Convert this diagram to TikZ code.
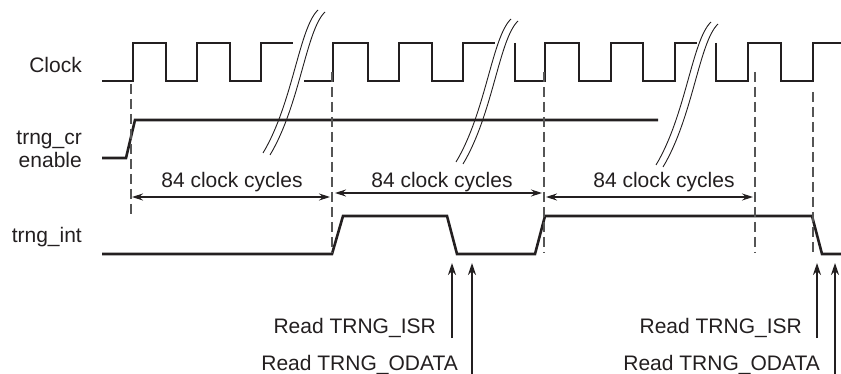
\documentclass[tikz,border=0pt]{standalone}
\usepackage{fontspec}
\setmainfont{Liberation Sans}
\usetikzlibrary{arrows.meta}
\definecolor{ink}{HTML}{231F20}
\definecolor{guidegray}{HTML}{555555}

% double wavy break line, bottom end at (#1,#2)
\newcommand{\wavebreak}[2]{%
  \begin{scope}[shift={(#1,#2)}]
    \fill[white] (0,0) .. controls (30,-50) and (36,-125) .. (55,-143) -- (62,-141) .. controls (43,-123) and (37,-48) .. (7,2) -- cycle;
    \draw[line width=0.9pt,ink] (0,0) .. controls (30,-50) and (36,-125) .. (55,-143);
    \draw[line width=0.9pt,ink] (7,2) .. controls (37,-48) and (43,-123) .. (62,-141);
  \end{scope}}

\begin{document}
\begin{tikzpicture}[x=1pt,y=-1pt,
  wave/.style={line width=2.6pt,ink,line join=miter},
  guide/.style={line width=1.3pt,guidegray,dash pattern=on 10pt off 5pt},
  dimarrow/.style={line width=1.1pt,ink,{Stealth[length=11pt,width=7pt]}-{Stealth[length=11pt,width=7pt]}},
  readarrow/.style={line width=2pt,ink,-{Stealth[length=12pt,width=8pt]}},
  lbl/.style={inner sep=0pt,text=ink,font=\fontsize{21}{25}\selectfont}]
\path[use as bounding box] (0,0) rectangle (841,374);

% signal names
\node[lbl,anchor=base east] (clklbl) at (82,73) {Clock};
\node[lbl,anchor=base east] (crlbl) at (82,145) {trng\_cr};
\node[lbl,anchor=base east] (enlbl) at (82,168) {enable};
\node[lbl,anchor=base east] (intlbl) at (82,243) {trng\_int};

% clock
\draw[wave] (102,81) -- (133,81) -- (133,43) -- (166,43) -- (166,81) -- (197,81) -- (197,43) -- (230,43) -- (230,81) -- (261,81) -- (261,43) -- (293,43);
\draw[wave] (304,81) -- (333,81) -- (333,43) -- (368,43) -- (368,81) -- (399,81) -- (399,43) -- (432,43) -- (432,81) -- (463,81) -- (463,43) -- (495,43);
\draw[wave] (515,43) -- (515,81) -- (545,81) -- (545,43) -- (579,43) -- (579,81) -- (611,81) -- (611,43) -- (643,43) -- (643,81) -- (675,81) -- (675,43) -- (697,43);
\draw[wave] (716,43) -- (716,81) -- (748,81) -- (748,43) -- (781,43) -- (781,81) -- (813,81) -- (813,43) -- (841,43);

% time breaks
\wavebreak{263}{153}
\wavebreak{456}{162}
\wavebreak{656}{165}

% trng_cr enable
\draw[wave] (102,158) -- (126,158) -- (135,120) -- (658,120);

% trng_int
\draw[wave] (102,254) -- (332,254) -- (343,216) -- (447,216) -- (457,254) -- (535,254) -- (545,216) -- (812,216) -- (822,254) -- (841,254);

% guides
\coordinate (g1top) at (131,84);  \coordinate (g1bot) at (131,218);
\coordinate (g2top) at (332,72);  \coordinate (g2bot) at (332,253);
\coordinate (g3top) at (544,72);  \coordinate (g3bot) at (544,253);
\coordinate (g4top) at (755,72);  \coordinate (g4bot) at (755,253);
\coordinate (g5top) at (813,92);  \coordinate (g5bot) at (813,253);
\draw[guide] (g1top) -- (g1bot);
\draw[guide] (g2top) -- (g2bot);
\draw[guide] (g3top) -- (g3bot);
\draw[guide] (g4top) -- (g4bot);
\draw[guide] (g5top) -- (g5bot);

% 84 clock cycles spans
\coordinate (d1a) at (132,197); \coordinate (d1b) at (330,197);
\coordinate (d2a) at (335,193); \coordinate (d2b) at (542,193);
\coordinate (d3a) at (546,197); \coordinate (d3b) at (753,197);
\draw[dimarrow] (d1a) -- (d1b);
\draw[dimarrow] (d2a) -- (d2b);
\draw[dimarrow] (d3a) -- (d3b);
\node[lbl,anchor=base] (cyc1) at (232,188) {84 clock cycles};
\node[lbl,anchor=base] (cyc2) at (442,188) {84 clock cycles};
\node[lbl,anchor=base] (cyc3) at (664,188) {84 clock cycles};

% register reads
\coordinate (isr1) at (452,338);  \coordinate (isr1tip) at (452,263);
\coordinate (od1) at (472,374);   \coordinate (od1tip) at (472,263);
\coordinate (isr2) at (817,338);  \coordinate (isr2tip) at (817,263);
\coordinate (od2) at (835,374);   \coordinate (od2tip) at (835,263);
\draw[readarrow] (isr1) -- (isr1tip);
\draw[readarrow] (od1) -- (od1tip);
\draw[readarrow] (isr2) -- (isr2tip);
\draw[readarrow] (od2) -- (od2tip);
\node[lbl,anchor=base east] (isr1lbl) at (436,333) {Read TRNG\_ISR};
\node[lbl,anchor=base east] (od1lbl) at (458,370) {Read TRNG\_ODATA};
\node[lbl,anchor=base east] (isr2lbl) at (802,333) {Read TRNG\_ISR};
\node[lbl,anchor=base east] (od2lbl) at (820,370) {Read TRNG\_ODATA};
\end{tikzpicture}
\end{document}
